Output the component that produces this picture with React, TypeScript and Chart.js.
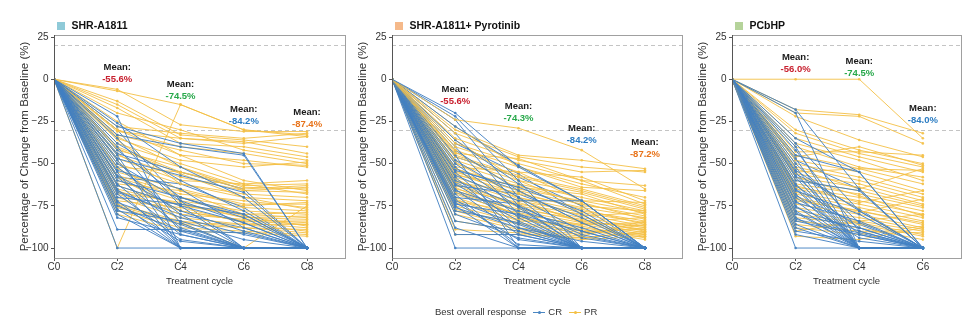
import React, { useEffect, useRef } from 'react';
import { Chart, registerables } from 'chart.js';
Chart.register(...registerables);

// ---------- data ----------
const cyclesAB = [0, 2, 4, 6, 8];
const cyclesC = [0, 2, 4, 6];
const refLines = [20, -30];
const yTicks = [-100, -75, -50, -25, 0, 25];

// SHR-A1811 : values at C2, C4, C6, C8 (C0 = 0)
const a1811PR = [
  [-6, -27, -31, -31], [-7, -15, -30, -33], [-13, -33, -36, -40], [-15, -35, -37, -44],
  [-17, -38, -40, -46], [-20, -30, -42, -48], [-28, -32, -35, -32], [-30, -40, -44, -50],
  [-30, -45, -48, -52], [-31, -35, -38, -34], [-33, -42, -50, -51], [-35, -48, -52, -49],
  [-38, -50, -62, -60], [-40, -55, -63, -62], [-42, -52, -64, -65], [-45, -58, -66, -67],
  [-47, -60, -62, -68], [-50, -62, -70, -72], [-52, -55, -65, -63], [-55, -65, -74, -74],
  [-57, -68, -72, -76], [-58, -70, -76, -78], [-60, -72, -78, -80], [-62, -66, -80, -82],
  [-63, -75, -80, -79], [-65, -74, -82, -83], [-66, -78, -84, -84], [-68, -80, -83, -85],
  [-70, -82, -86, -86], [-72, -76, -85, -88], [-74, -84, -88, -89], [-75, -85, -86, -90],
  [-76, -86, -88, -91], [-78, -88, -90, -92], [-80, -90, -91, -93], [-48, -85, -100, -75],
  [-100, -15, -30, -34], [-36, -62, -68, -70], [-44, -66, -75, -73], [-25, -45, -60, -66],
  [-53, -70, -81, -87], [-67, -73, -82, -81], [-58, -78, -84, -86], [-34, -52, -66, -64],
  [-41, -56, -70, -77],
];
const a1811CR = [
  [-22, -100, -100, -100], [-26, -52, -70, -100], [-28, -38, -44, -100], [-33, -40, -45, -100],
  [-35, -75, -100, -100], [-38, -60, -78, -100], [-40, -85, -100, -100], [-42, -70, -82, -100],
  [-45, -100, -100, -100], [-47, -57, -67, -100], [-48, -90, -100, -100], [-50, -72, -85, -100],
  [-52, -80, -100, -100], [-54, -65, -88, -100], [-55, -100, -100, -100], [-57, -78, -90, -100],
  [-58, -88, -100, -100], [-60, -70, -80, -100], [-62, -92, -100, -100], [-63, -75, -85, -100],
  [-65, -100, -100, -100], [-66, -82, -92, -100], [-68, -95, -100, -100], [-70, -74, -80, -100],
  [-72, -100, -100, -100], [-73, -86, -100, -100], [-75, -90, -91, -100], [-77, -100, -100, -100],
  [-78, -84, -95, -100], [-80, -100, -100, -100], [-82, -92, -100, -100], [-89, -89, -100, -100],
  [-100, -100, -100, -100], [-30, -72, -100, -100], [-44, -55, -65, -100], [-58, -62, -76, -100],
  [-67, -80, -88, -100], [-74, -96, -100, -100],
];

// SHR-A1811 + Pyrotinib : C2, C4, C6, C8
const pyroPR = [
  [-24, -29, -42, -65], [-30, -45, -48, -53], [-32, -46, -52, -55], [-35, -48, -55, -54],
  [-38, -50, -60, -63], [-40, -52, -62, -70], [-42, -55, -58, -72], [-44, -47, -60, -74],
  [-45, -57, -65, -75], [-46, -58, -66, -76], [-48, -60, -67, -77], [-50, -62, -70, -78],
  [-52, -55, -72, -79], [-53, -64, -68, -80], [-55, -66, -74, -81], [-56, -68, -76, -82],
  [-57, -63, -73, -83], [-58, -70, -78, -84], [-60, -72, -79, -85], [-61, -67, -77, -86],
  [-62, -74, -80, -87], [-63, -75, -82, -88], [-65, -73, -84, -89], [-66, -77, -83, -90],
  [-67, -78, -85, -91], [-68, -80, -86, -92], [-70, -82, -88, -93], [-72, -79, -87, -94],
  [-73, -83, -89, -95], [-75, -85, -90, -92], [-77, -86, -91, -88], [-78, -88, -92, -86],
  [-80, -89, -93, -84], [-84, -90, -94, -90], [-89, -91, -95, -93], [-92, -92, -94, -91],
  [-36, -60, -75, -78], [-43, -65, -72, -73], [-49, -70, -81, -79], [-54, -71, -85, -87],
  [-59, -76, -84, -82], [-64, -81, -90, -89], [-71, -84, -86, -85], [-28, -52, -64, -66],
];
const pyroCR = [
  [-20, -52, -72, -100], [-22, -60, -100, -100], [-24, -70, -100, -100], [-28, -51, -72, -100],
  [-32, -75, -100, -100], [-36, -62, -80, -100], [-40, -80, -100, -100], [-42, -66, -85, -100],
  [-45, -100, -100, -100], [-48, -70, -90, -100], [-50, -76, -100, -100], [-52, -82, -100, -100],
  [-54, -64, -78, -100], [-55, -88, -100, -100], [-57, -72, -72, -100], [-58, -90, -100, -100],
  [-60, -75, -92, -100], [-62, -84, -100, -100], [-63, -68, -82, -100], [-65, -92, -100, -100],
  [-66, -78, -88, -100], [-68, -100, -100, -100], [-70, -74, -94, -100], [-72, -86, -100, -100],
  [-73, -95, -100, -100], [-74, -80, -90, -100], [-75, -100, -100, -100], [-76, -88, -96, -100],
  [-78, -85, -100, -100], [-80, -94, -100, -100], [-84, -90, -100, -100], [-88, -100, -100, -100],
  [-92, -92, -100, -100], [-100, -100, -100, -100], [-46, -58, -75, -100], [-53, -66, -85, -100],
  [-61, -79, -100, -100], [-67, -81, -93, -100], [-71, -98, -100, -100], [-38, -56, -80, -100],
];

// PCbHP : C2, C4, C6
const pcbhpPR = [
  [0, 0, -35], [-18, -21, -32], [-20, -22, -38], [-22, -36, -46], [-30, -42, -50],
  [-32, -44, -52], [-35, -46, -55], [-40, -52, -58], [-45, -53, -62], [-46, -40, -51],
  [-48, -55, -66], [-50, -58, -68], [-52, -60, -70], [-55, -53, -54], [-56, -62, -72],
  [-58, -64, -74], [-60, -66, -75], [-62, -68, -76], [-64, -70, -78], [-65, -72, -80],
  [-67, -74, -82], [-68, -76, -84], [-70, -78, -85], [-72, -78, -86], [-74, -80, -88],
  [-76, -82, -89], [-78, -84, -90], [-80, -85, -92], [-82, -86, -93], [-84, -88, -95],
  [-86, -90, -91], [-88, -92, -87], [-90, -84, -80], [-93, -95, -88], [-38, -48, -60],
  [-53, -65, -53], [-63, -73, -66], [-71, -79, -71], [-43, -43, -45], [-58, -69, -81],
];
const pcbhpCR = [
  [-18, -65, -100], [-20, -100, -100], [-35, -55, -100], [-38, -78, -100], [-40, -100, -100],
  [-42, -90, -100], [-45, -55, -100], [-47, -100, -100], [-50, -85, -100], [-52, -100, -100],
  [-54, -78, -100], [-55, -100, -100], [-57, -92, -100], [-58, -100, -100], [-60, -66, -100],
  [-62, -100, -100], [-63, -88, -100], [-65, -100, -100], [-66, -80, -100], [-68, -100, -100],
  [-70, -94, -100], [-72, -100, -100], [-73, -84, -100], [-75, -100, -100], [-76, -90, -100],
  [-78, -100, -100], [-80, -88, -100], [-82, -100, -100], [-84, -92, -100], [-86, -100, -100],
  [-88, -100, -100], [-90, -96, -100], [-92, -100, -100], [-100, -100, -100], [-48, -65, -100],
  [-56, -77, -100], [-64, -100, -100], [-69, -86, -100], [-79, -100, -100], [-83, -91, -100],
];

// mean change at each cycle (C2, C4, C6, C8)
const a1811Means = [-55.6, -74.5, -84.2, -87.4];
const pyroMeans = [-55.6, -74.3, -84.2, -87.2];
const pcbhpMeans = [-56.0, -74.5, -84.0];
// vertical anchor (in axis units) of each "Mean:" label
const a1811MeanAnchor = [7.2, -2.8, -17.6, -19.4];
const pyroMeanAnchor = [-5.8, -15.8, -29.4, -37.7];
const pcbhpMeanAnchor = [13.2, 10.8, -17.0];

// ---------- style ----------
const FONT = '"Liberation Sans", Arial, Helvetica, sans-serif';
const CR_COLOR = 'rgba(66,128,194,0.92)';
const PR_COLOR = 'rgba(244,192,70,0.9)';
const MEAN_COLORS = ['#C8202F', '#27A84A', '#2B7CC2', '#E8731A'];

const decorPlugin = {
  id: 'panelDecor',
  beforeDatasetsDraw(chart: any) {
    const { ctx, chartArea: ca, scales } = chart;
    ctx.save();
    ctx.strokeStyle = '#c4c4c4';
    ctx.lineWidth = 1;
    ctx.setLineDash([4, 3]);
    refLines.forEach((v) => {
      const y = Math.round(scales.y.getPixelForValue(v)) + 0.5;
      ctx.beginPath();
      ctx.moveTo(ca.left, y);
      ctx.lineTo(ca.right, y);
      ctx.stroke();
    });
    ctx.restore();
  },
  afterDatasetsDraw(chart: any, _a: any, opts: any) {
    const { ctx, chartArea: ca, scales } = chart;
    ctx.save();
    ctx.strokeStyle = '#a0a0a0';
    ctx.lineWidth = 1;
    ctx.strokeRect(Math.round(ca.left) + 0.5, Math.round(ca.top) + 0.5, Math.round(ca.right - ca.left), Math.round(ca.bottom - ca.top));
    ctx.strokeStyle = '#555';
    ctx.beginPath();
    ctx.moveTo(Math.round(ca.left) + 0.5, ca.top);
    ctx.lineTo(Math.round(ca.left) + 0.5, ca.bottom + 0.5);
    ctx.stroke();
    ctx.fillStyle = opts.swatch;
    ctx.fillRect(ca.left + 3, ca.top - 13, 8, 8);
    ctx.fillStyle = '#111';
    ctx.font = `bold 10.5px ${FONT}`;
    ctx.textAlign = 'left';
    ctx.textBaseline = 'middle';
    ctx.fillText(opts.name, ca.left + 17.5, ca.top - 8.5);
    opts.means.forEach((m: number, i: number) => {
      const x = scales.x.getPixelForValue(opts.cycles[i + 1]);
      const y = scales.y.getPixelForValue(opts.anchors[i]);
      ctx.textAlign = 'center';
      ctx.font = `bold 9.5px ${FONT}`;
      ctx.fillStyle = '#1a1a1a';
      ctx.fillText('Mean:', x, y);
      ctx.fillStyle = MEAN_COLORS[i];
      ctx.fillText(m.toFixed(1) + '%', x, y + 12);
    });
    ctx.restore();
  },
};

type PanelProps = {
  left: number; width: number; xMax: number; cycles: number[];
  cr: number[][]; pr: number[][]; name: string; swatch: string;
  means: number[]; anchors: number[];
};

function Panel(p: PanelProps) {
  const ref = useRef<HTMLCanvasElement>(null);
  useEffect(() => {
    const mk = (r: number[], color: string) => ({
      data: [0, ...r].map((v, i) => ({ x: p.cycles[i], y: v })),
      borderColor: color,
      backgroundColor: color,
      borderWidth: 1,
      pointRadius: 1.3,
      pointHoverRadius: 0,
      pointBorderWidth: 0,
      showLine: true,
      fill: false,
      tension: 0,
    });
    // patients interleaved so that the two responses overlap each other as in a per-patient plot
    const datasets: any[] = [];
    const n = Math.max(p.cr.length, p.pr.length);
    for (let i = 0; i < n; i++) {
      if (i < p.cr.length) datasets.push(mk(p.cr[i], CR_COLOR));
      if (i < p.pr.length) datasets.push(mk(p.pr[i], PR_COLOR));
    }
    const chart = new Chart(ref.current as HTMLCanvasElement, {
      type: 'scatter',
      data: { datasets },
      options: {
        responsive: false,
        animation: false,
        events: [],
        layout: { padding: { left: 14, right: 5, top: 35, bottom: 7 } },
        plugins: {
          legend: { display: false },
          tooltip: { enabled: false },
          panelDecor: { name: p.name, swatch: p.swatch, means: p.means, anchors: p.anchors, cycles: p.cycles },
        } as any,
        scales: {
          x: {
            type: 'linear',
            min: 0,
            max: p.xMax,
            afterFit: (s: any) => { s.height = 30; },
            afterBuildTicks: (s: any) => { s.ticks = p.cycles.map((v) => ({ value: v })); },
            ticks: {
              callback: (v: any) => 'C' + v,
              font: { size: 10, family: FONT },
              color: '#333',
              padding: 0,
              maxRotation: 0,
              autoSkip: false,
            },
            grid: { display: true, drawOnChartArea: false, drawTicks: true, tickLength: 3, color: '#555' },
            border: { display: false },
            title: { display: true, text: 'Treatment cycle', font: { size: 9.5, family: FONT }, color: '#333', padding: { top: 0, bottom: 1 } },
          },
          y: {
            type: 'linear',
            min: -105.9,
            max: 26.2,
            afterFit: (s: any) => { s.width = 40; },
            afterBuildTicks: (s: any) => { s.ticks = yTicks.map((v) => ({ value: v })); },
            ticks: {
              callback: (v: any) => (v < 0 ? '\u2212' + Math.abs(v) : String(v)),
              font: { size: 10, family: FONT },
              color: '#333',
              padding: 2.5,
              autoSkip: false,
            },
            grid: { display: true, drawOnChartArea: false, drawTicks: true, tickLength: 3, color: '#555' },
            border: { display: false },
            title: { display: true, text: 'Percentage of Change from Baseline (%)', font: { size: 11.5, family: FONT }, color: '#333', padding: { top: 4, bottom: 0 } },
          },
        },
      },
      plugins: [decorPlugin as any],
    });
    return () => chart.destroy();
  }, []);
  return (
    <canvas
      ref={ref}
      width={p.width}
      height={295}
      style={{ position: 'absolute', left: p.left, top: 0, width: p.width, height: 295, display: 'block' }}
    />
  );
}

function LegendKey({ color }: { color: string }) {
  return (
    <span style={{ display: 'inline-block', position: 'relative', width: 12, height: 10, margin: '0 3px 0 7px', verticalAlign: 'middle' }}>
      <span style={{ position: 'absolute', left: 0, top: 4.5, width: 12, height: 1.2, background: color }} />
      <span style={{ position: 'absolute', left: 4.5, top: 3.5, width: 3, height: 3, borderRadius: 2, background: color }} />
    </span>
  );
}

export default function App() {
  return (
    <div style={{ position: 'absolute', left: 0, top: 0, width: 969, height: 327, background: '#fff', overflow: 'hidden' }}>
      <Panel left={0} width={350} xMax={9.2} cycles={cyclesAB} cr={a1811CR} pr={a1811PR}
        name="SHR-A1811" swatch="#8FCAD8" means={a1811Means} anchors={a1811MeanAnchor} />
      <Panel left={338} width={349} xMax={9.17} cycles={cyclesAB} cr={pyroCR} pr={pyroPR}
        name="SHR-A1811+ Pyrotinib" swatch="#F5B98A" means={pyroMeans} anchors={pyroMeanAnchor} />
      <Panel left={678} width={288} xMax={7.2} cycles={cyclesC} cr={pcbhpCR} pr={pcbhpPR}
        name="PCbHP" swatch="#B5D39A" means={pcbhpMeans} anchors={pcbhpMeanAnchor} />
      <div style={{ position: 'absolute', left: 435, top: 305, fontFamily: FONT, fontSize: 9.5, color: '#333', whiteSpace: 'nowrap', lineHeight: '14px' }}>
        <span style={{ verticalAlign: 'middle' }}>Best overall response</span>
        <LegendKey color="#4A86C2" />
        <span style={{ verticalAlign: 'middle' }}>CR</span>
        <LegendKey color="#F4C044" />
        <span style={{ verticalAlign: 'middle' }}>PR</span>
      </div>
    </div>
  );
}
